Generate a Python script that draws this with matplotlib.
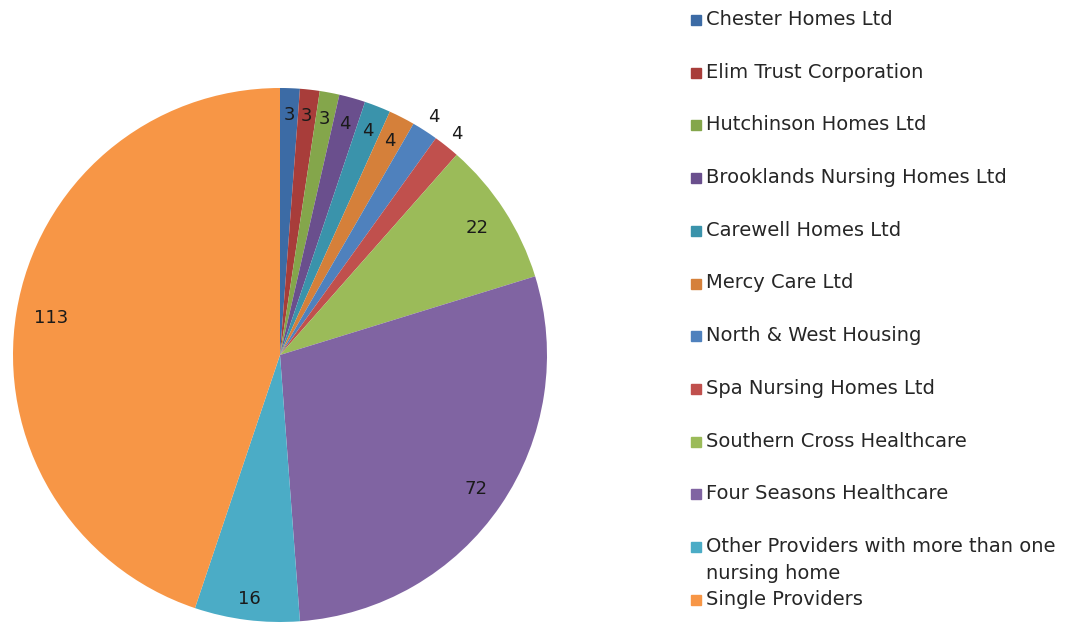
import numpy as np
import matplotlib.pyplot as plt
from matplotlib.patches import Rectangle

plt.rcParams["font.family"] = ["DejaVu Sans"]

providers = [
    "Chester Homes Ltd",
    "Elim Trust Corporation",
    "Hutchinson Homes Ltd",
    "Brooklands Nursing Homes Ltd",
    "Carewell Homes Ltd",
    "Mercy Care Ltd",
    "North & West Housing",
    "Spa Nursing Homes Ltd",
    "Southern Cross Healthcare",
    "Four Seasons Healthcare",
    "Other Providers with more than one\nnursing home",
    "Single Providers",
]
homes = [3, 3, 3, 4, 4, 4, 4, 4, 22, 72, 16, 113]

colors = [
    "#3C6BA5", "#A83D3A", "#84A64B", "#6A4F8D", "#3A93AB", "#D5803A",
    "#4F81BD", "#C0504D", "#9BBB59", "#8064A2", "#4BACC6", "#F79646",
]
# label distance from centre (fraction of radius); two small slices sit outside
label_r = [0.9, 0.9, 0.9, 0.9, 0.9, 0.9, 1.06, 1.06, 0.88, 0.89, 0.92, 0.87]

fig = plt.figure(figsize=(10.8, 6.24), dpi=100)
R = 267
ax = fig.add_axes([(280 - R) / 1080, (624 - 355 - R) / 624, 2 * R / 1080, 2 * R / 624])
wedges, _ = ax.pie(homes, colors=colors, startangle=90, counterclock=False,
                   wedgeprops=dict(linewidth=0))
ax.set_xlim(-1, 1)
ax.set_ylim(-1, 1)
ax.set_aspect("equal")
ax.axis("off")

for w, v, r in zip(wedges, homes, label_r):
    ang = np.deg2rad((w.theta1 + w.theta2) / 2)
    ax.text(r * np.cos(ang), r * np.sin(ang), str(v), ha="center", va="center",
            fontsize=13, color="#1a1a1a", clip_on=False)

# legend drawn by hand to keep the original spacing
y0, dy = 20, 52.7
for i, (name, c) in enumerate(zip(providers, colors)):
    yc = y0 + i * dy
    fig.patches.append(Rectangle((691 / 1080, 1 - (yc + 5) / 624), 10 / 1080, 10 / 624,
                                 transform=fig.transFigure, color=c))
    fig.text(706 / 1080, 1 - (yc - 10) / 624, name, ha="left", va="top",
             fontsize=14, color="#262626", linespacing=1.55)

fig.savefig("out.png", dpi=100)
